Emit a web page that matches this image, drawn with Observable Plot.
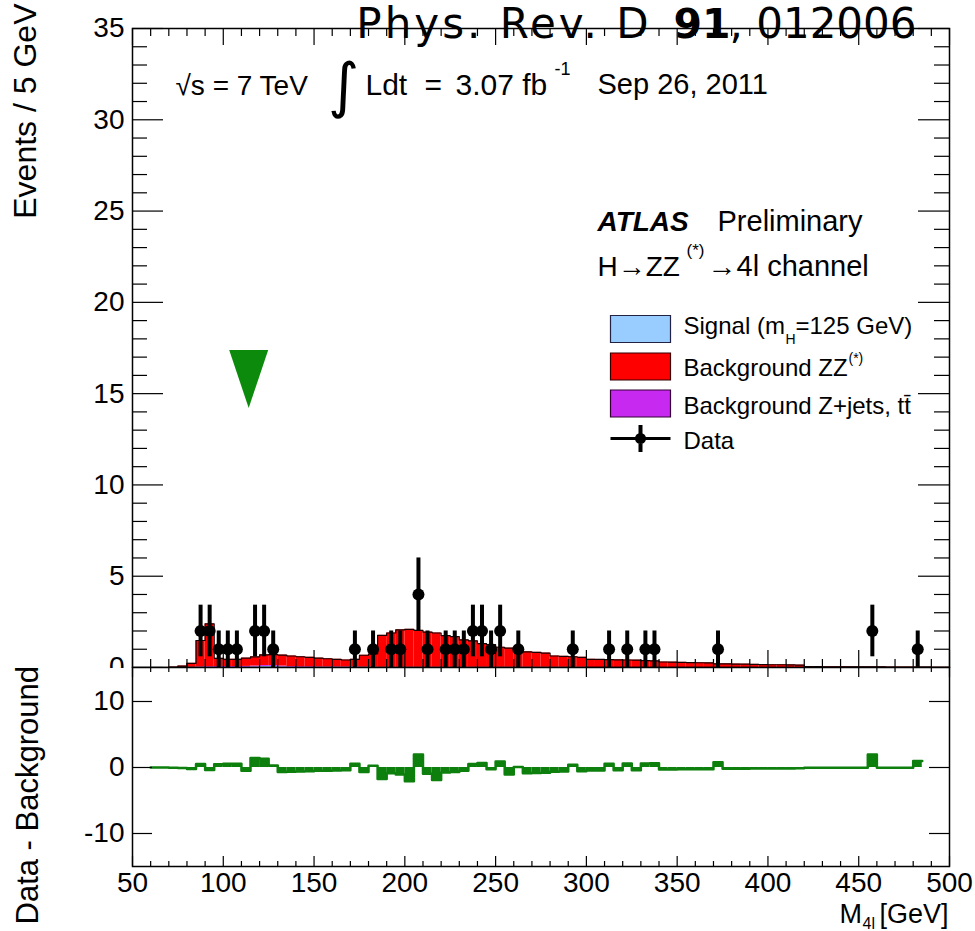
<!DOCTYPE html>
<html>
<head>
<meta charset="utf-8">
<script src="https://cdn.jsdelivr.net/npm/d3@7"></script>
<script src="https://cdn.jsdelivr.net/npm/@observablehq/plot@0.6"></script>
<style>
  html, body { margin: 0; padding: 0; background: #fff; }
  #chart { position: relative; width: 975px; height: 931px; overflow: hidden; background: #fff; }
  #chart svg { position: absolute; left: 0; }
</style>
</head>
<body>
<div id="chart"></div>
<script>
// ---------------- data ----------------
// 5 GeV histogram bins, lower edges 70 ... 495 GeV
const binLo = d3.range(70, 500, 5);
// Background ZZ(*) expected events per bin
const zzBackground = [
  0.02,0.08,0.22,1.45,2.35,0.45,0.40,0.40,0.45,0.50,
  0.58,0.60,0.60,0.58,0.55,0.52,0.48,0.45,0.42,0.38,
  0.42,0.65,0.72,1.75,1.88,2.05,2.08,2.02,1.93,1.88,
  1.74,1.68,1.50,1.45,1.30,1.25,1.10,1.05,0.90,0.85,
  0.82,0.78,0.62,0.60,0.58,0.55,0.45,0.44,0.43,0.42,
  0.41,0.40,0.38,0.36,0.30,0.29,0.28,0.27,0.26,0.25,
  0.20,0.20,0.19,0.18,0.17,0.16,0.15,0.15,0.14,0.13,
  0.05,0.05,0.04,0.04,0.04,0.03,0.03,0.03,0.03,0.02,
  0.02,0.02,0.02,0.02,0.01,0.01
];
// Background Z+jets, ttbar expected events per bin
const zjetsBackground = [
  0,0,0.01,0.03,0.04,0.05,0.05,0.05,0.05,0.05,
  0.05,0.05,0.05,0.04,0.04,0.04,0.03,0.03,0.03,0.03,
  0.03,0.02,0.02,0.01,0.01,0.01,0.01,0.01,0.01,0.01,
  0.01,0.01,0.01,0.01,0.01,0.01,0.01,0.01,0.01,0.01,
  0.01,0.01,0.01,0.01,0.01,0.01,0,0,0,0,
  0,0,0,0,0,0,0,0,0,0,
  0,0,0,0,0,0,0,0,0,0,
  0,0,0,0,0,0,0,0,0,0,
  0,0,0,0,0,0
];
// Signal (mH = 125 GeV)
const signalLo = [110, 115, 120, 125, 130, 135];
const signalValues = [0.01, 0.03, 0.06, 0.06, 0.03, 0.01];
// Observed data: bin centres and counts
const dataMass  = [87.5,92.5,97.5,102.5,107.5,117.5,122.5,127.5,172.5,182.5,192.5,197.5,207.5,212.5,222.5,227.5,232.5,237.5,242.5,247.5,252.5,262.5,292.5,312.5,322.5,332.5,337.5,372.5,457.5,482.5];
const dataCount = [2,2,1,1,1,2,2,1,1,1,1,1,4,1,1,1,1,2,2,1,2,1,1,1,1,1,1,1,2,1];
// residual panel range (bin lower edges)
const diffLo = d3.range(60, 485, 5);
// green marker
const markerPoint = [{m: 114, v: 15.8}];
// tick values / labels
const yTicksTop = [0, 5, 10, 15, 20, 25, 30, 35];
const yMinorTop = d3.range(0, 36).filter(v => v % 5 !== 0);
const yTicksBottom = [-10, 0, 10];
const xTicks = [50, 100, 150, 200, 250, 300, 350, 400, 450, 500];
const xMinor = d3.range(50, 501, 10).filter(v => v % 50 !== 0);
const legendLabels = ["Signal (m", "Background ZZ", "Background Z+jets, tt\u0304", "Data"];

// ---------------- derived tables ----------------
const layers = [
  {lo: signalLo, v: signalValues, fill: "#99ccff"},
  {lo: binLo, v: zjetsBackground, fill: "#c829f0"},
  {lo: binLo, v: zzBackground, fill: "#ff0000"}
];
const cumul = new Map();
const stackRows = [];
for (const L of layers) {
  L.lo.forEach((lo, i) => {
    const b = cumul.get(lo) || 0, t = b + L.v[i];
    stackRows.push({lo, hi: lo + 5, y1: b, y2: t, fill: L.fill});
    cumul.set(lo, t);
  });
}
const totalLine = binLo.map(lo => ({x: lo, y: cumul.get(lo)}));
totalLine.push({x: 500, y: cumul.get(495)});
const dataRows = dataMass.map((m, i) => ({m, n: dataCount[i]}));
const countAt = new Map(dataRows.map(d => [d.m - 2.5, d.n]));
const diffRows = diffLo.map(lo => ({lo, hi: lo + 5, d: (countAt.get(lo) || 0) - (cumul.get(lo) || 0)}));
const diffLine = diffRows.map(r => ({x: r.lo, y: r.d}));
diffLine.push({x: 485, y: diffRows[diffRows.length - 1].d});

// ---------------- geometry / style ----------------
const FONT = "Liberation Sans, Arial, Helvetica, sans-serif";
const W = 975, ML = 132, MR = 26, innerW = W - ML - MR;
const topH = 668, topMT = 28, topMB = 1, topInnerH = topH - topMT - topMB;
const botTop = 666, botH = 931 - botTop, botMT = 1, botMB = 65, botInnerH = botH - botMT - botMB;
const GREEN = "#0c7f0c";

const triDown = {draw(ctx) { ctx.moveTo(-19.5, -29); ctx.lineTo(19.5, -29); ctx.lineTo(0, 29); ctx.closePath(); }};
const boxSym = {draw(ctx) { ctx.rect(-30, -13.5, 60, 27); }};
const dataSym = {draw(ctx) {
  ctx.rect(-30, -1.5, 60, 3); ctx.rect(-2, -13.5, 4, 27);
  ctx.moveTo(5.5, 0); ctx.arc(0, 0, 5.5, 0, 2 * Math.PI);
}};

const txt = (s, dx, dy, o = {}) => Plot.text([s], {
  text: d => d, frameAnchor: "top-left", dx, dy, textAnchor: "start", lineAnchor: "bottom",
  fontSize: 28, fontFamily: FONT, fill: "black", ...o
});
const sym = (symbol, dx, dy, o = {}) => Plot.dot([0], {frameAnchor: "top-left", dx, dy, symbol, ...o});

// ---------------- top panel ----------------
const topPlot = Plot.plot({
  width: W, height: topH,
  marginLeft: ML, marginRight: MR, marginTop: topMT, marginBottom: topMB,
  x: {domain: [50, 500], axis: null},
  y: {domain: [0, 35], axis: null},
  style: {fontFamily: FONT, background: "white", overflow: "hidden"},
  marks: [
    Plot.rect(stackRows, {x1: "lo", x2: "hi", y1: "y1", y2: "y2", fill: d => d.fill}),
    Plot.line(totalLine, {x: "x", y: "y", curve: "step-after", stroke: "#1a0000", strokeWidth: 1.2}),
    Plot.ruleX(dataRows, {x: "m", y1: d => d.n - Math.sqrt(d.n), y2: d => d.n + Math.sqrt(d.n), stroke: "black", strokeWidth: 4}),
    Plot.dot(dataRows, {x: "m", y: "n", r: 6, fill: "black"}),
    Plot.dot(markerPoint, {x: "m", y: "v", symbol: triDown, fill: "#0b8a0b"}),
    // ticks
    Plot.tickY(yTicksTop, {y: d => d, insetRight: innerW - 31, stroke: "black", strokeWidth: 1.2}),
    Plot.tickY(yMinorTop, {y: d => d, insetRight: innerW - 15, stroke: "black", strokeWidth: 1.2}),
    Plot.tickY(yTicksTop, {y: d => d, insetLeft: innerW - 31, stroke: "black", strokeWidth: 1.2}),
    Plot.tickY(yMinorTop, {y: d => d, insetLeft: innerW - 15, stroke: "black", strokeWidth: 1.2}),
    Plot.tickX(xTicks, {x: d => d, insetBottom: topInnerH - 17, stroke: "black", strokeWidth: 1.2}),
    Plot.tickX(xMinor, {x: d => d, insetBottom: topInnerH - 8, stroke: "black", strokeWidth: 1.2}),
    Plot.tickX(xTicks, {x: d => d, insetTop: topInnerH - 17, stroke: "black", strokeWidth: 1.2}),
    Plot.tickX(xMinor, {x: d => d, insetTop: topInnerH - 8, stroke: "black", strokeWidth: 1.2}),
    Plot.frame({stroke: "black", strokeWidth: 1.5}),
    Plot.axisY({ticks: yTicksTop, anchor: "left", tickSize: 0, tickPadding: 8, fontSize: 28, fontFamily: FONT, label: null, tickFormat: d => String(d)}),
    // annotations
    txt("Events / 5 GeV", -107, -25, {rotate: -90, textAnchor: "end", lineAnchor: "middle", fontSize: 32}),
    txt("\u221As = 7 TeV", 43, 66),
    txt("\u222B", 211, 58, {fontFamily: "DejaVu Sans", fontSize: 60, textAnchor: "middle", lineAnchor: "middle"}),
    txt("Ldt", 233, 66, {fontSize: 30}),
    txt("=", 292, 66, {fontSize: 30}),
    txt("3.07 fb", 323, 66, {fontSize: 30}),
    txt("-1", 422, 46, {fontSize: 18}),
    txt("Sep 26, 2011", 465, 65, {fontSize: 29}),
    txt("ATLAS", 465, 202, {fontWeight: "bold", fontStyle: "italic"}),
    txt("Preliminary", 585, 202, {fontSize: 29}),
    txt("H\u2192ZZ", 465, 247),
    txt("(*)", 554, 227, {fontSize: 17}),
    txt("\u21924l channel", 575, 247, {fontSize: 29}),
    // legend
    sym(boxSym, 508, 300.5, {fill: "#99ccff", stroke: "#222244", strokeWidth: 1.2}),
    sym(boxSym, 508, 338, {fill: "#ff0000", stroke: "#330000", strokeWidth: 1.2}),
    sym(boxSym, 508, 375, {fill: "#c829f0", stroke: "#330033", strokeWidth: 1.2}),
    sym(dataSym, 508, 410, {fill: "black"}),
    txt(legendLabels[0], 551, 305, {fontSize: 24}),
    txt("H", 653, 315, {fontSize: 14}),
    txt("=125 GeV)", 663, 305, {fontSize: 24}),
    txt(legendLabels[1], 551, 347, {fontSize: 24}),
    txt("(*)", 716, 334, {fontSize: 14}),
    txt(legendLabels[2], 551, 385, {fontSize: 24}),
    txt(legendLabels[3], 551, 420, {fontSize: 24}),
    // reference
    txt("Phys. Rev. D", 519, 9, {fontFamily: "DejaVu Sans", fontSize: 42, textAnchor: "end"}),
    txt("91", 541, 9, {fontFamily: "DejaVu Sans", fontSize: 41, fontWeight: "bold"}),
    txt(", 012006", 597, 9, {fontFamily: "DejaVu Sans", fontSize: 42})
  ]
});

// ---------------- bottom panel ----------------
const botPlot = Plot.plot({
  width: W, height: botH,
  marginLeft: ML, marginRight: MR, marginTop: botMT, marginBottom: botMB,
  x: {domain: [50, 500], axis: null},
  y: {domain: [-15, 15.15], axis: null},
  style: {fontFamily: FONT, background: "transparent", overflow: "hidden"},
  marks: [
    Plot.rect(diffRows, {x1: "lo", x2: "hi", y1: 0, y2: "d", fill: GREEN}),
    Plot.line(diffLine, {x: "x", y: "y", curve: "step-after", stroke: GREEN, strokeWidth: 2.5}),
    Plot.tickY(yTicksBottom, {y: d => d, insetRight: innerW - 20, stroke: "black", strokeWidth: 1.2}),
    Plot.tickY(yTicksBottom, {y: d => d, insetLeft: innerW - 20, stroke: "black", strokeWidth: 1.2}),
    Plot.tickX(xTicks, {x: d => d, insetBottom: botInnerH - 10, stroke: "black", strokeWidth: 1.2}),
    Plot.tickX(xMinor, {x: d => d, insetBottom: botInnerH - 5, stroke: "black", strokeWidth: 1.2}),
    Plot.tickX(xTicks, {x: d => d, insetTop: botInnerH - 10, stroke: "black", strokeWidth: 1.2}),
    Plot.tickX(xMinor, {x: d => d, insetTop: botInnerH - 5, stroke: "black", strokeWidth: 1.2}),
    Plot.frame({stroke: "black", strokeWidth: 1.5}),
    Plot.axisY({ticks: yTicksBottom, anchor: "left", tickSize: 0, tickPadding: 8, fontSize: 28, fontFamily: FONT, label: null, tickFormat: d => String(d)}),
    Plot.axisX({ticks: xTicks, anchor: "bottom", tickSize: 0, tickPadding: 6, fontSize: 28, fontFamily: FONT, label: null, tickFormat: d => String(d)}),
    txt("Data - Background", -104, 257, {rotate: -90, textAnchor: "start", lineAnchor: "middle", fontSize: 31}),
    txt("M", 707, 255, {fontSize: 27}),
    txt("4l", 730, 261, {fontSize: 16}),
    txt("[GeV]", 747, 255, {fontSize: 27})
  ]
});

// widen the journal reference a little, as in the original lettering
topPlot.querySelectorAll("text").forEach(t => {
  if (t.textContent === "Phys. Rev. D") t.style.letterSpacing = "3px";
});

const chart = document.getElementById("chart");
topPlot.style.top = "0px";
botPlot.style.top = botTop + "px";
chart.appendChild(topPlot);
chart.appendChild(botPlot);
</script>
</body>
</html>
